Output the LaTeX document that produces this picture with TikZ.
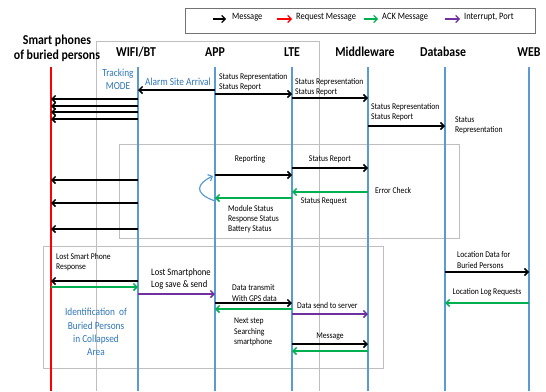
\documentclass[tikz,border=0pt]{standalone}
\usepackage{fontspec}
\setmainfont{Carlito}[FakeStretch=0.87]
\usetikzlibrary{arrows.meta}
\definecolor{lifeblue}{RGB}{91,155,213}
\definecolor{txtblue}{RGB}{46,117,182}
\definecolor{ackgreen}{RGB}{0,176,80}
\definecolor{intpurple}{RGB}{112,48,160}
\definecolor{boxgrey}{RGB}{191,191,191}
\tikzset{
  tip/.style={-{Straight Barb[length=3.5pt,width=7pt]}},
  msg/.style={tip, line width=1.5pt, black},
  req/.style={tip, line width=1.5pt, red},
  ack/.style={tip, line width=1.5pt, ackgreen},
  intr/.style={tip, line width=1.5pt, intpurple},
  life/.style={line width=1.8pt, lifeblue},
  grp/.style={draw=boxgrey, line width=0.8pt},
  hdr/.style={font=\bfseries\fontsize{13.6}{15}\selectfont, align=center, inner sep=0pt},
  lbl/.style={font=\fontsize{8.8}{10.2}\selectfont, align=left, inner sep=0pt},
  blbl/.style={font=\fontsize{10.7}{13.2}\selectfont, text=txtblue, align=center, inner sep=0pt},
  leg/.style={font=\fontsize{9.7}{10}\selectfont, inner sep=0pt, anchor=west}
}
\begin{document}
\begin{tikzpicture}[x=1pt,y=-1pt]
\useasboundingbox (0,0) rectangle (546,391);
% grey group boxes
\draw[grp] (96,391) -- (96,41) -- (319,41) -- (319,391);
\draw[grp] (119,144) rectangle (459,238);
\draw[grp] (43,246) rectangle (383,368);
% legend
\node[draw=black!55, line width=0.8pt, minimum width=350pt, minimum height=25pt, inner sep=0pt] (legend) at (360,20.5) {};
\coordinate (lm1) at (213,19); \coordinate (lm2) at (226,19);
\coordinate (lr1) at (277,19); \coordinate (lr2) at (292,19);
\coordinate (la1) at (364,19); \coordinate (la2) at (378,19);
\coordinate (lp1) at (445,19); \coordinate (lp2) at (460,19);
\draw[msg, line width=1.2pt] (lm1) -- (lm2);
\draw[req, line width=1.2pt] (lr1) -- (lr2);
\draw[ack, line width=1.2pt] (la1) -- (la2);
\draw[intr, line width=1.2pt] (lp1) -- (lp2);
\node[leg] (tm) at (232,17) {Message};
\node[leg] (tr) at (296,17) {Request Message};
\node[leg] (ta) at (382,17) {ACK Message};
\node[leg] (tp) at (464,17) {Interrupt, Port};
% headers
\node[hdr] (hsp) at (57,48.5) {Smart phones\\of buried persons};
\node[hdr] (hwifi) at (136,52) {WIFI/BT};
\node[hdr] (happ) at (215,52) {APP};
\node[hdr] (hlte) at (292,52) {LTE};
\node[hdr] (hmw) at (365,52) {Middleware};
\node[hdr] (hdb) at (443,52) {Database};
\node[hdr] (hweb) at (529,52) {WEB};
% lifeline coordinates
\coordinate (sp) at (51,67);   \coordinate (spb) at (51,391);
\coordinate (wifi) at (138,67); \coordinate (wifib) at (138,391);
\coordinate (app) at (215,67); \coordinate (appb) at (215,391);
\coordinate (lte) at (292,67); \coordinate (lteb) at (292,391);
\coordinate (mw) at (368,67);  \coordinate (mwb) at (368,391);
\coordinate (db) at (445,67);  \coordinate (dbb) at (445,391);
\coordinate (web) at (529,67); \coordinate (webb) at (529,391);
\draw[line width=1.8pt, red] (sp) -- (spb);
\draw[life] (wifi) -- (wifib);
\draw[life] (app) -- (appb);
\draw[life] (lte) -- (lteb);
\draw[life] (mw) -- (mwb);
\draw[life] (db) -- (dbb);
\draw[life] (web) -- (webb);
% ---- section 1
\node[blbl] (track) at (118,79) {Tracking\\MODE};
\node[blbl] (alarm) at (178,82) {Alarm Site Arrival};
\draw[msg] (app |- 0,90) -- (wifi |- 0,90);
\foreach \yy in {99,106,112,119} \draw[msg] (wifi |- 0,\yy) -- (sp |- 0,\yy);
\node[lbl, anchor=west] (l1) at (219,82.5) {Status Representation\\Status Report};
\draw[msg] (app |- 0,94) -- (lte |- 0,94);
\node[lbl, anchor=west] (l2) at (295,87.5) {Status Representation\\Status Report};
\draw[msg] (lte |- 0,98) -- (mw |- 0,98);
\node[lbl, anchor=west] (l3) at (371,112) {Status Representation\\Status Report};
\draw[msg] (mw |- 0,126) -- (db |- 0,126);
\node[lbl, anchor=west] (l4) at (455,125) {Status\\Representation};
% ---- section 2
\foreach \yy in {180,203,229} \draw[msg] (wifi |- 0,\yy) -- (sp |- 0,\yy);
\node[lbl] (rep) at (250,159) {Reporting};
\draw[msg] (app |- 0,175) -- (lte |- 0,175);
\node[lbl] (sr) at (330,159) {Status Report};
\draw[msg] (lte |- 0,168) -- (mw |- 0,168);
\node[lbl, anchor=west] (ec) at (375,190) {Error Check};
\draw[ack] (mw |- 0,192) -- (lte |- 0,192);
\node[lbl] (sq) at (324,201) {Status Request};
\draw[ack] (lte |- 0,198) -- (app |- 0,198);
\node[lbl, anchor=west] (ms) at (228,219) {Module Status\\Response Status\\Battery Status};
\coordinate (loopA) at (215,201);
\coordinate (loopB) at (213,176);
\draw[tip, line width=1.2pt, lifeblue] (loopA) .. controls (192,193) and (198,183) .. (loopB);
% ---- section 3
\node[lbl, anchor=west] (lsp) at (56,262.5) {Lost Smart Phone\\Response};
\draw[msg] (wifi |- 0,281) -- (sp |- 0,281);
\draw[ack] (sp |- 0,287) -- (wifi |- 0,287);
\node[lbl, anchor=west, font=\fontsize{9.9}{11.5}\selectfont] (lls) at (151,279) {Lost Smartphone\\Log save \& send};
\draw[intr] (wifi |- 0,294) -- (app |- 0,294);
\node[lbl, anchor=west] (dt) at (232,293) {Data transmit\\With GPS data};
\draw[msg] (app |- 0,303) -- (lte |- 0,303);
\draw[ack] (lte |- 0,309) -- (app |- 0,309);
\node[lbl, anchor=west] (ds) at (297,305) {Data send to server};
\draw[intr] (lte |- 0,314) -- (mw |- 0,314);
\node[lbl, anchor=west] (ns) at (234,332) {Next step\\Searching\\smartphone};
\node[lbl] (mg) at (330,336) {Message};
\draw[msg] (lte |- 0,344) -- (mw |- 0,344);
\draw[ack] (mw |- 0,351) -- (lte |- 0,351);
\node[blbl] (ident) at (96,332) {Identification~~of\\Buried Persons\\in Collapsed\\Area};
\node[lbl, anchor=west] (ld) at (457,260) {Location Data for\\Buried Persons};
\draw[msg] (db |- 0,272) -- (web |- 0,272);
\node[lbl] (llr) at (487,292) {Location Log Requests};
\draw[ack] (web |- 0,303) -- (db |- 0,303);
\end{tikzpicture}
\end{document}
